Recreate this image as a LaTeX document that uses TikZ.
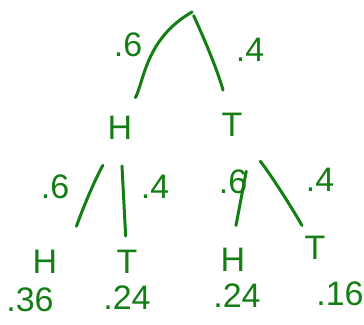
\documentclass[tikz,border=0pt]{standalone}
\usepackage{fontspec}
\setmainfont{Liberation Sans}
\definecolor{ink}{RGB}{20,125,20}
\begin{document}
\begin{tikzpicture}[x=0.5pt,y=0.5pt,
  every node/.style={text=ink,font=\fontsize{17}{20}\selectfont},
  branch/.style={draw=ink,line width=1.5pt,line cap=round}]
\useasboundingbox (0,0) rectangle (364,325);
% first toss
\coordinate (root) at (192,313);
\node (H1) at (120,197) {H};
\node (T1) at (232,200) {T};
\node (pH1) at (128,280) {.6};
\node (pT1) at (250,275) {.4};
\draw[branch,shorten >=17pt] (root.center) to[out=210,in=63] (H1.center);
\draw[branch,shorten <=2pt,shorten >=18pt] (root.center) to[bend left=5] (T1.center);
% second toss
\node (H2) at (45,63) {H};
\node (T2) at (127,63) {T};
\node (H3) at (233,65) {H};
\node (T3) at (315,77) {T};
\node (pH2) at (55,138) {.6};
\node (pT2) at (155,138) {.4};
\node (pH3) at (233,143) {.6};
\node (pT3) at (320,145) {.4};
\draw[branch,shorten <=22pt,shorten >=9pt] ([xshift=3pt]H1.center) to[bend right=6] ([xshift=3pt]H2.north east);
\draw[branch,shorten <=19pt,shorten >=13pt] (H1.center) -- (T2.center);
\draw[branch,shorten <=14pt,shorten >=8pt] ([xshift=1pt]T1.south east) -- (H3.north);
\draw[branch,shorten <=23pt,shorten >=13pt] (T1.center) to[bend left=4] (T3.center);
% outcomes
\node (p1) at (30,25) {.36};
\node (p2) at (127,27) {.24};
\node (p3) at (237,29) {.24};
\node (p4) at (340,31) {.16};
\end{tikzpicture}
\end{document}
